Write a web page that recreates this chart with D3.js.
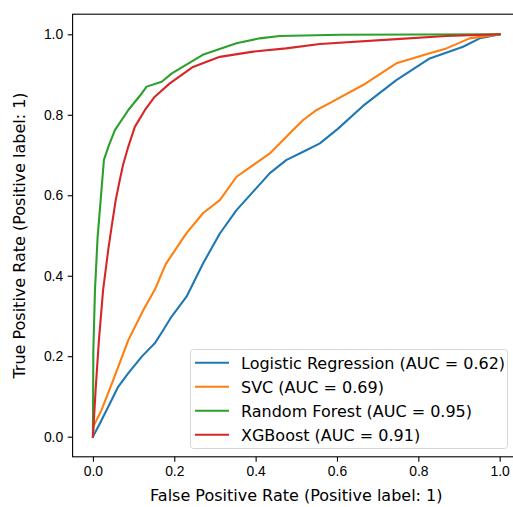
<!DOCTYPE html>
<html>
<head>
<meta charset="utf-8">
<script src="https://cdn.jsdelivr.net/npm/d3@7"></script>
<style>
  body { margin: 0; background: #fff; }
  svg { display: block; font-family: "DejaVu Sans", sans-serif; }
</style>
</head>
<body>
<div id="chart"></div>
<script>
// ROC curves: [fpr, tpr]
const logisticRoc = [
  [0, 0], [0.017, 0.033], [0.042, 0.083], [0.062, 0.124], [0.087, 0.158],
  [0.120, 0.199], [0.152, 0.232], [0.173, 0.265], [0.193, 0.298], [0.230, 0.348],
  [0.271, 0.431], [0.312, 0.505], [0.353, 0.563], [0.394, 0.609], [0.435, 0.655],
  [0.476, 0.688], [0.517, 0.708], [0.558, 0.729], [0.602, 0.765], [0.664, 0.822],
  [0.746, 0.886], [0.828, 0.940], [0.910, 0.969], [0.951, 0.990], [1, 1]
];
const svcRoc = [
  [0, 0], [0.001, 0.025], [0.021, 0.066], [0.05, 0.141], [0.087, 0.240],
  [0.124, 0.315], [0.152, 0.365], [0.179, 0.429], [0.230, 0.506], [0.271, 0.556],
  [0.312, 0.588], [0.353, 0.646], [0.435, 0.704], [0.492, 0.762], [0.517, 0.787],
  [0.550, 0.812], [0.582, 0.829], [0.664, 0.874], [0.746, 0.928], [0.828, 0.953],
  [0.869, 0.965], [0.926, 0.990], [1, 1]
];
const forestRoc = [
  [0, 0], [0.001, 0.215], [0.005, 0.364], [0.0115, 0.496], [0.019, 0.588],
  [0.027, 0.688], [0.038, 0.721], [0.054, 0.762], [0.087, 0.812], [0.120, 0.853],
  [0.132, 0.870], [0.169, 0.882], [0.194, 0.903], [0.270, 0.949], [0.353, 0.978],
  [0.410, 0.990], [0.459, 0.996], [0.607, 0.999], [1, 1]
];
const xgbRoc = [
  [0, 0], [0.0066, 0.116], [0.0147, 0.240], [0.025, 0.365], [0.0376, 0.464],
  [0.046, 0.522], [0.056, 0.588], [0.066, 0.638], [0.074, 0.675], [0.087, 0.721],
  [0.103, 0.770], [0.128, 0.812], [0.152, 0.845], [0.189, 0.878], [0.246, 0.919],
  [0.312, 0.944], [0.394, 0.957], [0.475, 0.965], [0.558, 0.976], [0.746, 0.988],
  [0.869, 0.996], [1, 1]
];

const modelNames = ["Logistic Regression", "SVC", "Random Forest", "XGBoost"];
const aucValues = [0.62, 0.69, 0.95, 0.91];
const colors = ["#1f77b4", "#ff7f0e", "#2ca02c", "#d62728"];
const tickValues = [0, 0.2, 0.4, 0.6, 0.8, 1.0];

const series = [logisticRoc, svcRoc, forestRoc, xgbRoc];

const width = 513, height = 507;
const plot = { left: 72.6, top: 14.2, right: 520, bottom: 456.8 };

const svg = d3.select("#chart").append("svg")
  .attr("width", width)
  .attr("height", height);

const x = d3.scaleLinear().domain([-0.05, 1.05]).range([plot.left, plot.right]);
const y = d3.scaleLinear().domain([-0.05, 1.05]).range([plot.bottom, plot.top]);

// axes
const xAxis = d3.axisBottom(x).tickValues(tickValues).tickFormat(d3.format(".1f"))
  .tickSize(4.9).tickPadding(4);
const yAxis = d3.axisLeft(y).tickValues(tickValues).tickFormat(d3.format(".1f"))
  .tickSize(4.9).tickPadding(4.5);

const gx = svg.append("g")
  .attr("transform", "translate(0," + plot.bottom + ")")
  .call(xAxis);
const gy = svg.append("g")
  .attr("transform", "translate(" + plot.left + ",0)")
  .call(yAxis);

[gx, gy].forEach(g => {
  g.select(".domain").remove();
  g.selectAll(".tick line").attr("stroke", "#000").attr("stroke-width", 1.1);
  g.selectAll(".tick text").attr("fill", "#000").style("font-size", "13.9px");
});

// curves
const line = d3.line().x(d => x(d[0])).y(d => y(d[1]));
series.forEach((s, i) => {
  svg.append("path")
    .datum(s)
    .attr("fill", "none")
    .attr("stroke", colors[i])
    .attr("stroke-width", 2.1)
    .attr("stroke-linejoin", "round")
    .attr("stroke-linecap", "square")
    .attr("d", line);
});

// frame
svg.append("rect")
  .attr("x", plot.left).attr("y", plot.top)
  .attr("width", plot.right - plot.left).attr("height", plot.bottom - plot.top)
  .attr("fill", "none").attr("stroke", "#000").attr("stroke-width", 1.1);

// axis labels
svg.append("text")
  .attr("x", (plot.left + plot.right) / 2)
  .attr("y", 500.5)
  .attr("text-anchor", "middle")
  .style("font-size", "16px")
  .text("False Positive Rate (Positive label: 1)");

svg.append("text")
  .attr("transform", "translate(24.5," + (plot.top + plot.bottom) / 2 + ") rotate(-90)")
  .attr("text-anchor", "middle")
  .style("font-size", "16px")
  .text("True Positive Rate (Positive label: 1)");

// legend
const legend = svg.append("g");
legend.append("rect")
  .attr("x", 190.5).attr("y", 349.5)
  .attr("width", 317).attr("height", 99)
  .attr("rx", 3)
  .attr("fill", "#fff").attr("fill-opacity", 0.8)
  .attr("stroke", "#d6d6d6").attr("stroke-width", 1);

modelNames.forEach((name, i) => {
  const cy = 362.7 + i * 24;
  legend.append("line")
    .attr("x1", 195).attr("x2", 229)
    .attr("y1", cy).attr("y2", cy)
    .attr("stroke", colors[i]).attr("stroke-width", 2.1);
  legend.append("text")
    .attr("x", 241).attr("y", cy + 5.8)
    .style("font-size", "16px")
    .text(name + " (AUC = " + aucValues[i].toFixed(2) + ")");
});
</script>
</body>
</html>
